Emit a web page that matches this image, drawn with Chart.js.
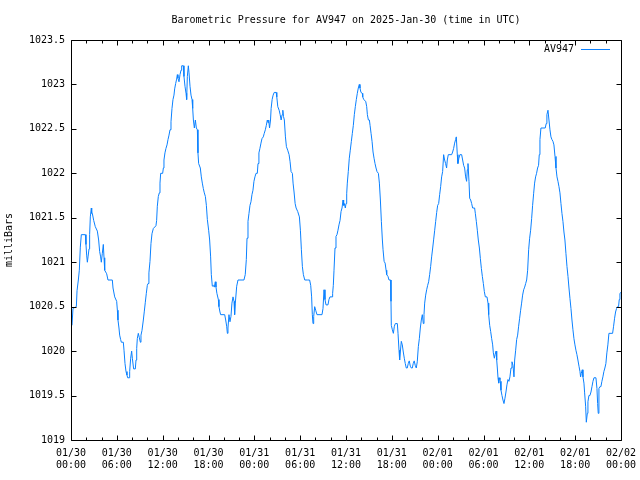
<!DOCTYPE html>
<html>
<head>
<meta charset="utf-8">
<script src="https://cdn.jsdelivr.net/npm/chart.js@4"></script>
<style>
  html, body { margin: 0; padding: 0; background: #fff; }
</style>
</head>
<body>
<canvas id="graphCanvas" width="640" height="480"></canvas>
<script>
// hours since 01/30 00:00 UTC and the pressure read at that time
var hours = [
  0.13, 0.26, 0.70, 0.79, 0.96, 1.09, 1.22, 1.35, 1.88, 1.96, 2.05, 2.14, 2.23, 2.36, 2.44, 2.53,
  2.66, 2.71, 2.79, 2.97, 3.18, 3.45, 3.62, 3.75, 3.88, 3.97, 4.10, 4.23, 4.32, 4.41, 4.67, 4.84,
  5.41, 5.50, 5.72, 5.98, 6.07, 6.15, 6.28, 6.37, 6.50, 6.59, 6.85, 6.94, 7.07, 7.20, 7.33, 7.42,
  7.64, 7.68, 7.81, 7.94, 8.03, 8.20, 8.42, 8.51, 8.60, 8.68, 8.81, 8.95, 9.08, 9.16, 9.29, 9.47,
  9.60, 9.73, 9.86, 9.99,
  10.08, 10.20, 10.34, 10.47, 10.60, 10.78, 11.12, 11.21, 11.30, 11.43, 11.56, 11.65, 11.74, 12.00,
  12.09, 12.17, 12.30, 12.43, 12.57, 12.70, 12.83, 12.96, 13.09, 13.22, 13.35, 13.48, 13.57, 13.70,
  13.83, 13.92, 14.00, 14.14, 14.27, 14.40, 14.49, 14.71, 14.79, 14.92, 15.06, 15.14, 15.23, 15.36,
  15.45, 15.58, 15.71, 15.84, 15.93, 16.02, 16.15, 16.28, 16.41, 16.54, 16.62, 16.71, 16.93, 17.06,
  17.19, 17.32, 17.45, 17.59, 17.72, 17.85, 18.02, 18.15, 18.28, 18.37, 18.50, 18.63, 18.76, 18.89,
  18.98, 19.10, 19.29, 19.37, 19.50, 19.59, 20.12, 20.25, 20.38, 20.47,
  20.55, 20.68, 20.81, 20.94, 21.07, 21.21, 21.34, 21.42, 21.51, 21.69, 21.86, 22.64, 22.81, 22.95,
  23.04, 23.17, 23.30, 23.43, 23.56, 23.69, 23.82, 23.95, 24.08, 24.22, 24.39, 24.48, 24.60, 24.73,
  24.87, 25.00, 25.17, 25.30, 25.44, 25.57, 25.70, 25.79, 25.88, 25.99, 26.12, 26.20, 26.33, 26.46,
  26.60, 26.86, 26.94, 27.07, 27.25, 27.38, 27.51, 27.64, 27.73, 27.82, 27.93, 28.07, 28.20, 28.37,
  28.55, 28.68, 28.81, 28.98, 29.07, 29.20, 29.34, 29.47, 29.68, 29.90, 30.03, 30.16, 30.29, 30.42,
  30.60, 30.94,
  31.02, 31.24, 31.38, 31.50, 31.59, 31.68, 31.77, 31.90, 32.03, 32.20, 32.86, 32.99, 33.12, 33.25,
  33.38, 33.64, 33.77, 33.90, 34.17, 34.25, 34.34, 34.43, 34.56, 34.69, 34.82, 34.95, 35.08, 35.22,
  35.35, 35.48, 35.61, 35.69, 35.78, 35.91, 36.00, 36.09, 36.17, 36.30, 36.43, 36.56, 36.70, 36.83,
  36.96, 37.09, 37.22, 37.35, 37.48, 37.61, 37.74, 37.83, 37.96, 38.14, 38.19, 38.32, 38.58, 38.71,
  38.80, 38.93, 39.06, 39.15, 39.28, 39.41, 39.54, 39.67, 39.80, 39.93, 40.06, 40.24, 40.37, 40.50,
  40.63, 40.76, 40.85, 40.99, 41.12, 41.25, 41.33,
  41.50, 41.63, 41.85, 41.89, 41.93, 42.07, 42.20, 42.33, 42.46, 42.72, 42.81, 42.94, 43.02, 43.11,
  43.24, 43.37, 43.50, 43.63, 43.76, 43.89, 44.02, 44.15, 44.28, 44.42, 44.55, 44.68, 44.80, 44.93,
  45.06, 45.20, 45.33, 45.47, 45.60, 45.73, 45.86, 45.99, 46.12, 46.21, 46.30, 46.43, 46.56, 46.69,
  46.82, 46.95, 47.08, 47.21, 47.35, 47.48, 47.61, 47.74, 47.87, 48.00, 48.13, 48.26, 48.39, 48.52,
  48.65, 48.78, 48.91, 49.04, 49.17, 49.26, 49.39, 49.83, 49.96, 50.09, 50.22, 50.35, 50.44, 50.57,
  50.65, 50.78, 50.91, 51.14, 51.27, 51.40, 51.53, 51.66, 51.79, 51.88,
  51.97, 52.10, 52.19, 52.32, 52.45, 52.58, 52.84, 52.93, 53.06, 53.19, 53.32, 53.46, 53.59, 53.72,
  53.85, 53.98, 54.11, 54.24, 54.46, 54.59, 54.68, 54.81, 54.94, 55.07, 55.20, 55.29, 55.42, 55.51,
  55.64, 55.73, 55.81, 55.90, 55.99, 56.07, 56.16, 56.20, 56.29, 56.42, 56.55, 56.68, 56.81, 56.94,
  57.07, 57.20, 57.33, 57.46, 57.60, 57.73, 57.86, 57.99, 58.08, 58.21, 58.34, 58.47, 58.60, 58.73,
  58.86, 58.99, 59.12, 59.26, 59.39, 59.52, 59.65, 59.78, 59.91, 60.04, 60.17, 60.30, 60.43, 60.56,
  60.69, 60.82, 60.95, 61.08, 61.21, 61.30, 61.39, 61.52, 62.08, 62.21, 62.30,
  62.44, 62.57, 62.70, 62.83, 62.96, 63.09, 63.22, 63.36, 63.49, 63.62, 63.75, 63.88, 64.01, 64.14,
  64.27, 64.40, 64.53, 64.66, 64.79, 64.93, 65.06, 65.19, 65.32, 65.45, 65.58, 65.71, 65.84, 65.97,
  66.10, 66.23, 66.36, 66.50, 66.63, 66.71, 66.80, 66.93, 67.02, 67.15, 67.24, 67.37, 67.46, 67.59,
  67.67, 67.80, 67.93, 68.07, 68.20, 68.33, 68.46, 68.72, 68.85, 68.94, 69.02, 69.11, 69.24, 69.37,
  69.50, 69.63, 69.76, 69.89, 70.02, 70.15, 70.28, 70.42, 70.90, 71.03, 71.16, 71.29, 71.42, 71.55,
  71.68, 71.77, 71.86, 72.00
];

var pressure = [
  1020.29, 1020.48, 1020.50, 1020.68, 1020.80, 1020.91, 1021.17, 1021.31, 1021.31, 1021.20, 1021.08, 1021.00, 1021.06, 1021.15, 1021.31, 1021.51,
  1021.61, 1021.55, 1021.55, 1021.47, 1021.40, 1021.35, 1021.25, 1021.12, 1021.06, 1021.00, 1021.10, 1021.20, 1021.05, 1020.91, 1020.87, 1020.80,
  1020.80, 1020.71, 1020.61, 1020.56, 1020.46, 1020.35, 1020.26, 1020.18, 1020.13, 1020.10, 1020.10, 1020.01, 1019.86, 1019.77, 1019.73, 1019.70,
  1019.70, 1019.77, 1019.92, 1020.00, 1019.92, 1019.80, 1019.80, 1019.90, 1020.03, 1020.14, 1020.20, 1020.15, 1020.10, 1020.18, 1020.23, 1020.35,
  1020.45, 1020.55, 1020.65, 1020.74,
  1020.76, 1020.88, 1021.01, 1021.21, 1021.32, 1021.38, 1021.41, 1021.47, 1021.63, 1021.74, 1021.78, 1021.89, 1022.00, 1022.00,
  1022.06, 1022.15, 1022.23, 1022.28, 1022.32, 1022.38, 1022.43, 1022.49, 1022.58, 1022.73, 1022.83, 1022.88, 1022.95, 1023.01,
  1023.06, 1023.11, 1023.07, 1023.03, 1023.11, 1023.16, 1023.21, 1023.21, 1023.09, 1022.98, 1022.90, 1022.83, 1023.09, 1023.21,
  1023.13, 1022.98, 1022.88, 1022.83, 1022.73, 1022.60, 1022.51, 1022.60, 1022.51, 1022.49, 1022.23, 1022.11, 1022.06, 1021.96,
  1021.89, 1021.83, 1021.78, 1021.74, 1021.64, 1021.48, 1021.36, 1021.25, 1021.06, 1020.86, 1020.73, 1020.74, 1020.72, 1020.78,
  1020.72, 1020.65, 1020.58, 1020.50, 1020.44, 1020.41, 1020.41, 1020.35, 1020.28, 1020.20,
  1020.26, 1020.41, 1020.33, 1020.39, 1020.54, 1020.61, 1020.56, 1020.41, 1020.54, 1020.73, 1020.80, 1020.80, 1020.86, 1021.03,
  1021.27, 1021.46, 1021.55, 1021.64, 1021.68, 1021.76, 1021.81, 1021.91, 1021.96, 1022.00, 1022.00, 1022.11, 1022.23, 1022.28,
  1022.34, 1022.39, 1022.41, 1022.45, 1022.49, 1022.54, 1022.60, 1022.57, 1022.60, 1022.51, 1022.60, 1022.73, 1022.83, 1022.88,
  1022.91, 1022.91, 1022.86, 1022.75, 1022.71, 1022.66, 1022.60, 1022.66, 1022.71, 1022.64, 1022.60, 1022.41, 1022.30, 1022.26,
  1022.21, 1022.13, 1022.02, 1022.00, 1021.89, 1021.79, 1021.66, 1021.61, 1021.57, 1021.51, 1021.36, 1021.14, 1020.95, 1020.86,
  1020.80, 1020.80,
  1020.80, 1020.80, 1020.74, 1020.61, 1020.41, 1020.31, 1020.39, 1020.50, 1020.46, 1020.41, 1020.41, 1020.48, 1020.69, 1020.58,
  1020.52, 1020.52, 1020.58, 1020.61, 1020.61, 1020.65, 1020.74, 1020.91, 1021.16, 1021.29, 1021.31, 1021.36, 1021.42, 1021.47,
  1021.57, 1021.61, 1021.70, 1021.64, 1021.66, 1021.61, 1021.66, 1021.77, 1021.89, 1022.02, 1022.17, 1022.26, 1022.36, 1022.45,
  1022.54, 1022.66, 1022.75, 1022.83, 1022.90, 1022.96, 1023.00, 1022.96, 1022.91, 1022.90, 1022.86, 1022.83, 1022.81, 1022.75,
  1022.66, 1022.60, 1022.60, 1022.54, 1022.45, 1022.36, 1022.24, 1022.17, 1022.11, 1022.06, 1022.02, 1022.00, 1021.89, 1021.70,
  1021.46, 1021.25, 1021.14, 1021.01, 1020.99, 1020.91, 1020.86,
  1020.84, 1020.80, 1020.80, 1020.56, 1020.29, 1020.24, 1020.20, 1020.28, 1020.31, 1020.31, 1020.20, 1020.01, 1019.90, 1019.99,
  1020.11, 1020.07, 1019.99, 1019.92, 1019.86, 1019.81, 1019.81, 1019.86, 1019.89, 1019.83, 1019.81, 1019.81, 1019.86, 1019.89,
  1019.84, 1019.81, 1019.88, 1020.05, 1020.14, 1020.26, 1020.35, 1020.41, 1020.31, 1020.41, 1020.54, 1020.63, 1020.69, 1020.74,
  1020.78, 1020.86, 1020.95, 1021.06, 1021.16, 1021.26, 1021.36, 1021.46, 1021.56, 1021.64, 1021.66, 1021.76, 1021.85, 1021.96,
  1022.02, 1022.21, 1022.15, 1022.11, 1022.06, 1022.15, 1022.21, 1022.21, 1022.24, 1022.28, 1022.34, 1022.38, 1022.41, 1022.21,
  1022.11, 1022.17, 1022.21, 1022.21, 1022.15, 1022.09, 1022.06, 1021.96, 1021.91, 1022.04,
  1022.11, 1021.91, 1021.72, 1021.70, 1021.66, 1021.61, 1021.61, 1021.55, 1021.46, 1021.36, 1021.25, 1021.16, 1021.04, 1020.93,
  1020.84, 1020.76, 1020.67, 1020.61, 1020.61, 1020.54, 1020.41, 1020.29, 1020.22, 1020.14, 1020.07, 1019.98, 1019.92, 1019.96,
  1020.00, 1019.90, 1019.81, 1019.70, 1019.64, 1019.70, 1019.68, 1019.66, 1019.56, 1019.50, 1019.45, 1019.41, 1019.47, 1019.54,
  1019.62, 1019.68, 1019.66, 1019.71, 1019.81, 1019.88, 1019.84, 1019.71, 1019.90, 1020.01, 1020.13, 1020.18, 1020.28, 1020.37,
  1020.46, 1020.54, 1020.63, 1020.69, 1020.72, 1020.76, 1020.80, 1020.91, 1021.14, 1021.27, 1021.36, 1021.49, 1021.64, 1021.77,
  1021.89, 1021.96, 1022.00, 1022.06, 1022.09, 1022.21, 1022.38, 1022.51, 1022.51, 1022.56, 1022.66,
  1022.71, 1022.60, 1022.49, 1022.41, 1022.38, 1022.36, 1022.32, 1022.19, 1022.06, 1021.96, 1021.91, 1021.85, 1021.78, 1021.66,
  1021.55, 1021.46, 1021.34, 1021.25, 1021.10, 1020.95, 1020.84, 1020.71, 1020.59, 1020.48, 1020.35, 1020.24, 1020.14, 1020.07,
  1020.01, 1019.96, 1019.90, 1019.83, 1019.77, 1019.71, 1019.75, 1019.79, 1019.71, 1019.64, 1019.53, 1019.38, 1019.20, 1019.30,
  1019.43, 1019.50, 1019.50, 1019.54, 1019.60, 1019.66, 1019.70, 1019.70, 1019.58, 1019.41, 1019.30, 1019.58, 1019.60, 1019.60,
  1019.66, 1019.71, 1019.77, 1019.81, 1019.86, 1019.98, 1020.07, 1020.20, 1020.20, 1020.28, 1020.37, 1020.44, 1020.48, 1020.50,
  1020.50, 1020.58, 1020.65, 1020.66
];

var xTicks = [0, 6, 12, 18, 24, 30, 36, 42, 48, 54, 60, 66, 72];
var xTickLabels = [
  ['01/30', '00:00'], ['01/30', '06:00'], ['01/30', '12:00'], ['01/30', '18:00'],
  ['01/31', '00:00'], ['01/31', '06:00'], ['01/31', '12:00'], ['01/31', '18:00'],
  ['02/01', '00:00'], ['02/01', '06:00'], ['02/01', '12:00'], ['02/01', '18:00'],
  ['02/02', '00:00']
];
var yTicks = [1019, 1019.5, 1020, 1020.5, 1021, 1021.5, 1022, 1022.5, 1023, 1023.5];
var yTickLabels = ['1019', '1019.5', '1020', '1020.5', '1021', '1021.5', '1022', '1022.5', '1023', '1023.5'];

var stationName = 'AV947';
var chartTitle = 'Barometric Pressure for AV947 on 2025-Jan-30 (time in UTC)';
var yTitle = 'milliBars';

var monoFont = 'DejaVu Sans Mono';
var lineColor = '#0a80ff';

showGraph();

function showGraph()
{
    var points = [];
    for (var i = 0; i < hours.length; i++) {
        points.push({ x: hours[i], y: pressure[i] });
    }

    // gnuplot look: frame on all sides, inward ticks, key inside top right
    var frameTicks = {
        id: 'frameTicks',
        afterDatasetsDraw: function (chart) {
            var ctx = chart.ctx;
            var a = chart.chartArea;
            var xs = chart.scales.x;
            var ys = chart.scales.y;
            var L = Math.round(a.left) + 0.5, R = Math.round(a.right) + 0.5;
            var T = Math.round(a.top) + 0.5, B = Math.round(a.bottom) + 0.5;

            ctx.save();
            ctx.strokeStyle = '#000';
            ctx.lineWidth = 1;
            ctx.beginPath();
            ctx.rect(L, T, R - L, B - T);

            // x ticks, major every 6 h, minor every 2 h
            for (var h = xs.min; h <= xs.max; h += 2) {
                var px = Math.round(xs.getPixelForValue(h)) + 0.5;
                var len = (h % 6 === 0) ? 5 : 3;
                ctx.moveTo(px, B); ctx.lineTo(px, B - len);
                ctx.moveTo(px, T); ctx.lineTo(px, T + len);
            }
            // y ticks left and right
            ys.ticks.forEach(function (t) {
                var py = Math.round(ys.getPixelForValue(t.value)) + 0.5;
                ctx.moveTo(L, py); ctx.lineTo(L + 5, py);
                ctx.moveTo(R, py); ctx.lineTo(R - 5, py);
            });
            ctx.stroke();

            // key
            var ds = chart.data.datasets[0];
            ctx.font = '10px "' + monoFont + '"';
            ctx.fillStyle = '#000';
            ctx.textAlign = 'right';
            ctx.textBaseline = 'middle';
            ctx.fillText(ds.label, 574, 49);
            ctx.strokeStyle = ds.borderColor;
            ctx.beginPath();
            ctx.moveTo(581, 49.5);
            ctx.lineTo(610, 49.5);
            ctx.stroke();
            ctx.restore();
        }
    };

    var graphTarget = document.getElementById("graphCanvas");

    new Chart(graphTarget, {
        type: 'line',
        data: {
            datasets: [
                {
                    label: stationName,
                    data: points,
                    borderColor: lineColor,
                    backgroundColor: lineColor,
                    borderWidth: 1,
                    pointRadius: 0,
                    tension: 0,
                    fill: false
                }
            ]
        },
        options: {
            responsive: false,
            animation: false,
            devicePixelRatio: 1,
            layout: { padding: { left: 0, right: 19, top: 0, bottom: 0 } },
            plugins: {
                legend: { display: false },
                tooltip: { enabled: false },
                title: {
                    display: true,
                    text: chartTitle,
                    fullSize: false,
                    color: '#000',
                    font: { family: monoFont, size: 10, weight: 'normal' },
                    padding: { top: 14, bottom: 14 }
                }
            },
            scales: {
                x: {
                    type: 'linear',
                    min: 0,
                    max: 72,
                    grid: { display: false, drawTicks: false },
                    border: { display: false },
                    afterBuildTicks: function (scale) {
                        scale.ticks = xTicks.map(function (v) { return { value: v }; });
                    },
                    afterFit: function (scale) {
                        scale.height = 40;
                        scale.paddingLeft = 0;
                        scale.paddingRight = 0;
                    },
                    ticks: {
                        autoSkip: false,
                        maxRotation: 0,
                        padding: 7,
                        color: '#000',
                        font: { family: monoFont, size: 10 },
                        callback: function (value, index) { return xTickLabels[index]; }
                    }
                },
                y: {
                    min: 1019,
                    max: 1023.5,
                    grid: { display: false, drawTicks: false },
                    border: { display: false },
                    afterBuildTicks: function (scale) {
                        scale.ticks = yTicks.map(function (v) { return { value: v }; });
                    },
                    afterFit: function (scale) {
                        scale.width = 71;
                        scale.paddingTop = 0;
                        scale.paddingBottom = 0;
                    },
                    title: {
                        display: true,
                        text: yTitle,
                        color: '#000',
                        font: { family: monoFont, size: 10 },
                        padding: { top: 3, bottom: 0 }
                    },
                    ticks: {
                        padding: 6,
                        color: '#000',
                        font: { family: monoFont, size: 10 },
                        callback: function (value, index) { return yTickLabels[index]; }
                    }
                }
            }
        },
        plugins: [frameTicks]
    });
}
</script>
</body>
</html>
